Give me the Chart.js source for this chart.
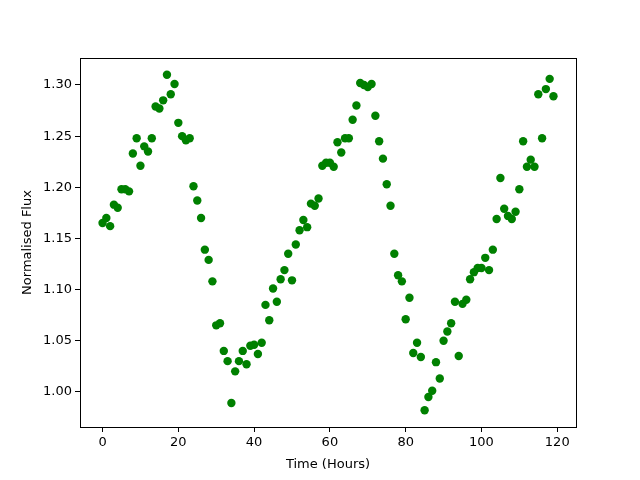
<!DOCTYPE html>
<html>
<head>
<meta charset="utf-8">
<script src="https://cdn.jsdelivr.net/npm/chart.js@4/dist/chart.umd.min.js"></script>
<style>
  html, body { margin: 0; padding: 0; background: #fff; }
  #wrap { width: 640px; height: 480px; }
</style>
</head>
<body>
<div id="wrap"><canvas id="fluxChart" width="640" height="480"></canvas></div>
<script>
// hours 0..119
const hours = [];
for (let h = 0; h < 120; h++) hours.push(h);

const flux = [
  1.165, 1.170, 1.162, 1.183, 1.180, 1.198, 1.198, 1.196, 1.233, 1.248,
  1.221, 1.240, 1.235, 1.248, 1.279, 1.277, 1.285, 1.310, 1.291, 1.301,
  1.263, 1.250, 1.246, 1.248, 1.201, 1.187, 1.170, 1.139, 1.129, 1.108,
  1.065, 1.067, 1.040, 1.030, 0.989, 1.020, 1.030, 1.040, 1.027, 1.045,
  1.046, 1.037, 1.048, 1.085, 1.070, 1.101, 1.088, 1.110, 1.119, 1.135,
  1.109, 1.144, 1.158, 1.168, 1.161, 1.184, 1.182, 1.189, 1.221, 1.224,
  1.224, 1.220, 1.244, 1.234, 1.248, 1.248, 1.266, 1.280, 1.302, 1.300,
  1.298, 1.301, 1.270, 1.245, 1.228, 1.203, 1.182, 1.135, 1.114, 1.108,
  1.071, 1.092, 1.038, 1.048, 1.034, 0.982, 0.995, 1.001, 1.029, 1.013,
  1.050, 1.059, 1.067, 1.088, 1.035, 1.086, 1.090, 1.110, 1.117, 1.121,
  1.121, 1.131, 1.119, 1.139, 1.169, 1.209, 1.179, 1.172, 1.169, 1.176,
  1.198, 1.245, 1.220, 1.227, 1.220, 1.291, 1.248, 1.296, 1.306, 1.289
];

const xTicks = [0, 20, 40, 60, 80, 100, 120];
const yTicks = [1.00, 1.05, 1.10, 1.15, 1.20, 1.25, 1.30];

const points = hours.map((h, i) => ({ x: h, y: flux[i] }));

// box round the plot area, like matplotlib spines
const frame = {
  id: 'frame',
  afterDraw(chart) {
    const a = chart.chartArea, c = chart.ctx;
    c.save();
    c.strokeStyle = '#000';
    c.lineWidth = 1;
    c.strokeRect(Math.round(a.left) + 0.5, Math.round(a.top) + 0.5,
                 Math.round(a.right - a.left), Math.round(a.bottom - a.top));
    c.restore();
  }
};

const tickFont = { family: 'DejaVu Sans', size: 13 };

new Chart(document.getElementById('fluxChart'), {
  type: 'scatter',
  data: {
    datasets: [{
      data: points,
      backgroundColor: '#008000',
      borderWidth: 0,
      pointRadius: 4.2,
      pointHoverRadius: 4.2
    }]
  },
  options: {
    responsive: false,
    animation: false,
    events: [],
    layout: { padding: { left: 0, right: 64, top: 58, bottom: 0 } },
    plugins: { legend: { display: false }, tooltip: { enabled: false } },
    scales: {
      x: {
        type: 'linear',
        min: -5.95,
        max: 124.95,
        afterBuildTicks: s => { s.ticks = xTicks.map(v => ({ value: v })); },
        afterFit: s => { s.height = 53; },
        grid: { display: true, drawOnChartArea: false, tickLength: 5, color: '#000' },
        border: { display: true, color: '#000' },
        ticks: { color: '#000', font: tickFont, padding: 3, maxRotation: 0 },
        title: { display: true, text: 'Time (Hours)', color: '#000', font: tickFont, padding: { top: 2, bottom: 8 } }
      },
      y: {
        type: 'linear',
        min: 0.9656,
        max: 1.3264,
        afterBuildTicks: s => { s.ticks = yTicks.map(v => ({ value: v })); },
        afterFit: s => { s.width = 80; },
        grid: { display: true, drawOnChartArea: false, tickLength: 5, color: '#000' },
        border: { display: true, color: '#000' },
        ticks: { color: '#000', font: tickFont, padding: 3, callback: v => v.toFixed(2) },
        title: { display: true, text: 'Normalised Flux', color: '#000', font: tickFont, padding: { top: 20, bottom: 4 } }
      }
    }
  },
  plugins: [frame]
});
</script>
</body>
</html>
